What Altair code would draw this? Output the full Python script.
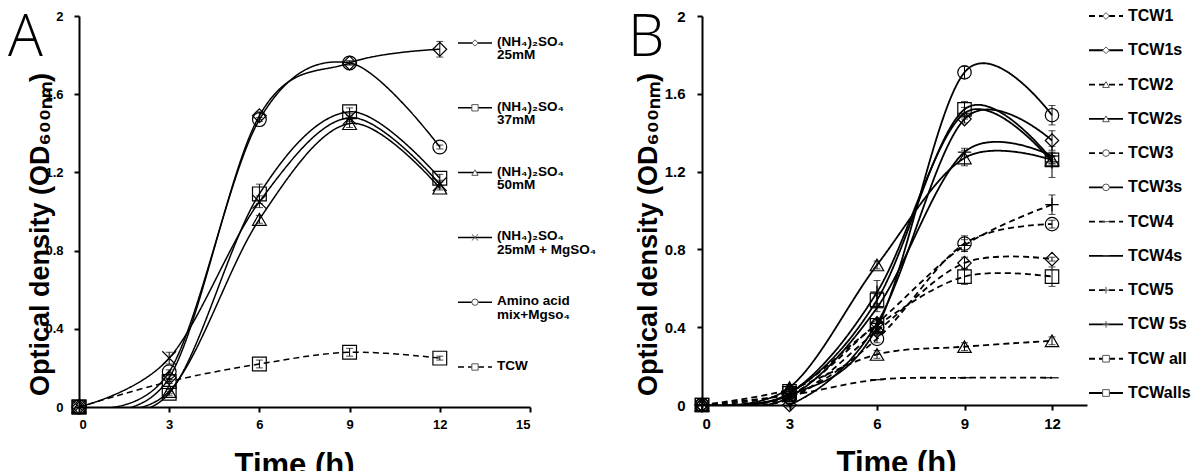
import altair as alt
import pandas as pd

times = [0, 3, 6, 9, 12]

# ---------------- Panel A data ----------------
a_series = ["A25", "A37", "A50", "A25Mg", "AAA", "ATCW"]
a_labels = ["(NH₄)₂SO₄\n25mM", "(NH₄)₂SO₄\n37mM", "(NH₄)₂SO₄\n50mM",
            "(NH₄)₂SO₄\n25mM + MgSO₄", "Amino acid\nmix+Mgso₄", "TCW"]
a_25 = [0, 0.15, 1.49, 1.76, 1.83]
a_37 = [0, 0.07, 1.09, 1.51, 1.17]
a_50 = [0, 0.08, 0.96, 1.45, 1.12]
a_25mg = [0, 0.25, 1.05, 1.48, 1.14]
a_aa = [0, 0.18, 1.47, 1.76, 1.33]
a_tcw = [0, 0.13, 0.22, 0.28, 0.25]
a_25_err = [0, 0.01, 0.02, 0.01, 0.04]
a_37_err = [0, 0.01, 0.05, 0.02, 0.02]
a_50_err = [0, 0.01, 0.02, 0.02, 0.01]
a_25mg_err = [0, 0.03, 0.03, 0.02, 0.02]
a_aa_err = [0, 0.01, 0.01, 0.01, 0.01]
a_tcw_err = [0, 0.01, 0.02, 0.02, 0.01]
a_dashed = [False, False, False, False, False, True]

# ---------------- Panel B data ----------------
b_series = ["TCW1", "TCW1s", "TCW2", "TCW2s", "TCW3", "TCW3s",
            "TCW4", "TCW4s", "TCW5", "TCW 5s", "TCW all", "TCWalls"]
b_tcw1 = [0, 0.03, 0.38, 0.73, 0.75]
b_tcw1s = [0, 0.00, 0.42, 1.47, 1.36]
b_tcw2 = [0, 0.08, 0.26, 0.30, 0.33]
b_tcw2s = [0, 0.09, 0.72, 1.27, 1.26]
b_tcw3 = [0, 0.04, 0.34, 0.83, 0.93]
b_tcw3s = [0, 0.05, 0.40, 1.71, 1.49]
b_tcw4 = [0, 0.05, 0.13, 0.14, 0.14]
b_tcw4s = [0, 0.04, 0.50, 1.30, 1.28]
b_tcw5 = [0, 0.05, 0.42, 0.82, 1.03]
b_tcw5s = [0, 0.06, 0.58, 1.50, 1.25]
b_tcwall = [0, 0.07, 0.41, 0.66, 0.66]
b_tcwalls = [0, 0.06, 0.54, 1.52, 1.26]
b_tcw1_err = [0, 0.01, 0.02, 0.03, 0.01]
b_tcw1s_err = [0, 0.01, 0.02, 0.02, 0.05]
b_tcw2_err = [0, 0.01, 0.02, 0.02, 0.02]
b_tcw2s_err = [0, 0.01, 0.02, 0.04, 0.02]
b_tcw3_err = [0, 0.01, 0.02, 0.04, 0.02]
b_tcw3s_err = [0, 0.01, 0.02, 0.03, 0.05]
b_tcw4_err = [0, 0, 0, 0, 0]
b_tcw4s_err = [0, 0.01, 0.02, 0.02, 0.02]
b_tcw5_err = [0, 0.01, 0.02, 0.03, 0.05]
b_tcw5s_err = [0, 0.01, 0.06, 0.03, 0.08]
b_tcwall_err = [0, 0.01, 0.03, 0.04, 0.05]
b_tcwalls_err = [0, 0.01, 0.03, 0.04, 0.02]
b_dashed = [True, False, True, False, True, False, True, False, True, False, True, False]

# marker shapes
DIAMOND = "diamond"
SQUARE = "square"
TRI = "triangle-up"
CIRCLE = "circle"
XSHAPE = "M-1,-1L1,1M-1,1L1,-1"
PLUS = "M-1,0L1,0M0,-1L0,1"
DASH = "M-1,0L1,0"

a_shapes = [DIAMOND, SQUARE, TRI, XSHAPE, CIRCLE, SQUARE]
b_shapes = [DIAMOND, DIAMOND, TRI, TRI, CIRCLE, CIRCLE, DASH, DASH, PLUS, PLUS, SQUARE, SQUARE]

FONT = "Liberation Sans"
SOLID = [1, 0]
DASHED = [6, 4]


def long_df(names, values, errs):
    rows = []
    for n, vals, es in zip(names, values, errs):
        for t, v, e in zip(times, vals, es):
            rows.append({"series": n, "t": t, "v": v, "lo": v - e, "hi": v + e, "e": e})
    return pd.DataFrame(rows)


def panel(names, labels, values, errs, dashed, shapes, letter, letter_x, xdom, w, h,
          tick_fs, msize, lw, leg_x, leg_range, leg_fs, leg_msize, multiline,
          title_x, title_y, xtitle_x, label_pad):
    df = long_df(names, values, errs)
    dash_range = [DASHED if d else SOLID for d in dashed]
    dash_scale = alt.Scale(domain=names, range=dash_range)
    shape_scale = alt.Scale(domain=names, range=shapes)

    xs = alt.Scale(domain=xdom, nice=False, zero=False)
    ys = alt.Scale(domain=[0, 2], nice=False)

    x_axis = alt.Axis(values=[0, 3, 6, 9, 12, 15], title="Time (h)", labelExpr="datum.value",
                      labelFontSize=tick_fs, labelPadding=6, titleFontSize=31,
                      titleX=xtitle_x, titleY=58, titleBaseline="middle", titleAlign="center")
    y_axis = alt.Axis(values=[0, 0.4, 0.8, 1.2, 1.6, 2], title="Optical density (OD₆₀₀ₙₘ)",
                      labelExpr="datum.value", labelFontSize=tick_fs, labelPadding=label_pad,
                      titleFontSize=27, titleX=title_x, titleY=title_y, titleAngle=270,
                      titleBaseline="middle", titleAlign="center")
    X = alt.X("t:Q", scale=xs, axis=x_axis)

    lines = alt.Chart(df).mark_line(interpolate="cardinal", clip=True, color="black",
                                    strokeWidth=lw).encode(
        x=X,
        y=alt.Y("v:Q", scale=ys, axis=y_axis),
        detail="series:N",
        strokeDash=alt.StrokeDash("series:N", scale=dash_scale, legend=None),
    )
    err_df = df[df["e"] > 0]
    ebar = alt.Chart(err_df).mark_rule(color="black", strokeWidth=1).encode(
        x=X,
        y=alt.Y("lo:Q", scale=ys, axis=y_axis),
        y2="hi:Q",
    )
    cap_lo = alt.Chart(err_df).mark_tick(color="black", orient="horizontal", size=7,
                                         thickness=1).encode(
        x=X,
        y=alt.Y("lo:Q", scale=ys, axis=y_axis),
    )
    cap_hi = alt.Chart(err_df).mark_tick(color="black", orient="horizontal", size=7,
                                         thickness=1).encode(
        x=X,
        y=alt.Y("hi:Q", scale=ys, axis=y_axis),
    )
    pts = alt.Chart(df).mark_point(fill="white", fillOpacity=0.0, stroke="black",
                                   strokeWidth=1.2, size=msize, opacity=1).encode(
        x=X,
        y=alt.Y("v:Q", scale=ys, axis=y_axis),
        shape=alt.Shape("series:N", scale=shape_scale, legend=None),
    )
    data_layer = alt.layer(lines, ebar, cap_lo, cap_hi, pts)

    # custom legend
    leg = pd.DataFrame({"series": names, "label": labels, "row": list(range(len(names)))})
    ly = alt.Y("row:Q", scale=alt.Scale(domain=[0, len(names) - 1], range=leg_range), axis=None)
    leg_rule = alt.Chart(leg).mark_rule(color="black", strokeWidth=lw).encode(
        x=alt.value(leg_x), x2=alt.value(leg_x + 34), y=ly,
        strokeDash=alt.StrokeDash("series:N", scale=dash_scale, legend=None),
    )
    leg_pt = alt.Chart(leg).mark_point(fill="white", fillOpacity=1, stroke="#555",
                                       strokeWidth=1, size=leg_msize).encode(
        x=alt.value(leg_x + 17), y=ly,
        shape=alt.Shape("series:N", scale=shape_scale, legend=None),
    )
    if multiline:
        leg_txt = alt.Chart(leg).mark_text(align="left", baseline="top", dy=-leg_fs * 0.6,
                                           font=FONT, fontWeight="bold", fontSize=leg_fs,
                                           lineBreak="\n", lineHeight=leg_fs * 1.0,
                                           color="black").encode(
            x=alt.value(leg_x + 39), y=ly, text="label:N",
        )
    else:
        leg_txt = alt.Chart(leg).mark_text(align="left", baseline="middle",
                                           font=FONT, fontWeight="bold", fontSize=leg_fs,
                                           color="black").encode(
            x=alt.value(leg_x + 39), y=ly, text="label:N",
        )
    letter_df = pd.DataFrame({"letter": [letter]})
    letter_txt = alt.Chart(letter_df).mark_text(align="left", baseline="alphabetic",
                                                font="Open Sans", fontSize=58,
                                                fontWeight=300, color="black").encode(
        x=alt.value(letter_x), y=alt.value(40), text="letter:N",
    )
    legend_layer = alt.layer(leg_rule, leg_pt, leg_txt, letter_txt)

    return alt.layer(data_layer, legend_layer).resolve_scale(
        x="independent", y="independent").properties(width=w, height=h)


a_values = [a_25, a_37, a_50, a_25mg, a_aa, a_tcw]
a_errs = [a_25_err, a_37_err, a_50_err, a_25mg_err, a_aa_err, a_tcw_err]
b_values = [b_tcw1, b_tcw1s, b_tcw2, b_tcw2s, b_tcw3, b_tcw3s, b_tcw4, b_tcw4s,
            b_tcw5, b_tcw5s, b_tcwall, b_tcwalls]
b_errs = [b_tcw1_err, b_tcw1s_err, b_tcw2_err, b_tcw2s_err, b_tcw3_err, b_tcw3s_err,
          b_tcw4_err, b_tcw4s_err, b_tcw5_err, b_tcw5s_err, b_tcwall_err, b_tcwalls_err]

panel_a = panel(a_series, a_labels, a_values, a_errs, a_dashed, a_shapes, "A", -71, [0, 15],
                451, 391, 13, 190, 1.5, 379, [27, 351], 13.5, 40, True,
                -39, 218, 215, 11)
panel_b = panel(b_series, b_series, b_values, b_errs, b_dashed, b_shapes, "B", -74, [0, 13.2],
                385, 389, 15, 180, 1.8, 387, [0, 377], 16, 45, False,
                -54, 218, 194, 12)

chart = alt.hconcat(panel_a, panel_b, spacing=172, bounds="flush").resolve_scale(
    shape="independent", strokeDash="independent", x="independent", y="independent"
).properties(
    padding={"left": 0, "top": 0, "right": 0, "bottom": 0}
).configure_view(stroke=None).configure_axis(
    domainColor="black", domainWidth=2, tickColor="black", tickWidth=2, tickSize=5,
    grid=False, labelFont=FONT, labelFontWeight="bold", labelColor="black",
    titleFont=FONT, titleFontWeight=900, titleColor="black",
)

chart.save("out.html", embed_options={"renderer": "svg", "actions": False})
